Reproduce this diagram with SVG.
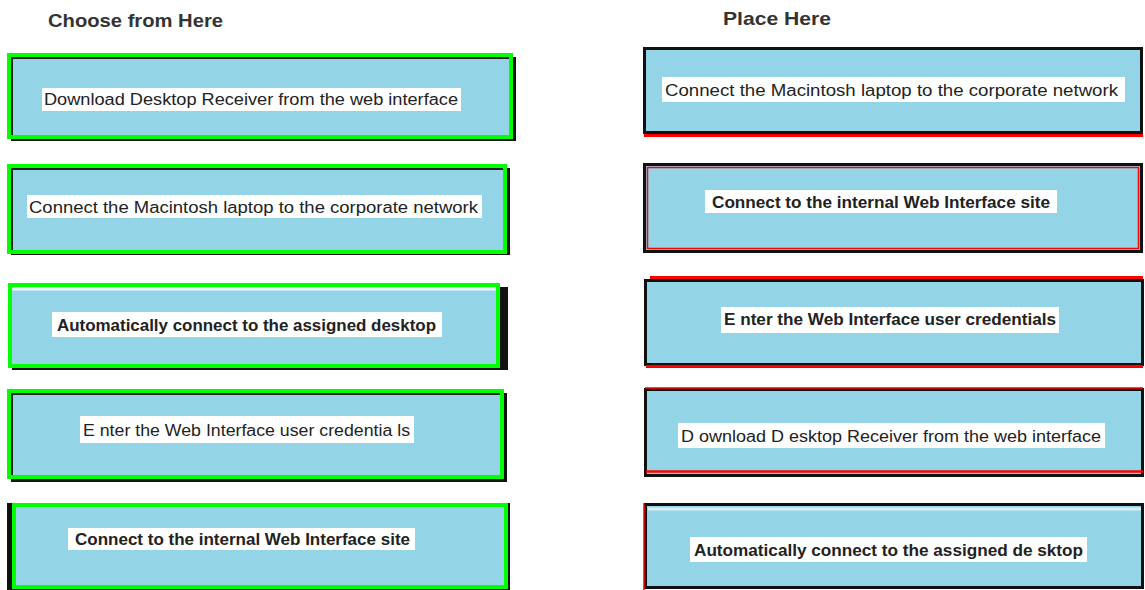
<svg xmlns="http://www.w3.org/2000/svg" width="1145" height="590" viewBox="0 0 1145 590">
<style>
.bg{fill:#ffffff}
.head{font-family:"Liberation Sans",Arial,sans-serif;font-weight:bold;font-size:19px;fill:#333}
.shadow{fill:#111}
.boxL{fill:#94d4e7;stroke:#00ff00;stroke-width:4}
.boxR{fill:#94d4e7;stroke:#111;stroke-width:3}
.inner{fill:none;stroke:#222;stroke-width:2}
.red{fill:none;stroke:#ff0000;stroke-width:3}
.hl{fill:#ffffff}
.t{font-family:"Liberation Sans",Arial,sans-serif;font-size:16px;fill:#222}
.b{font-weight:bold}
</style>
<rect class="bg" x="0" y="0" width="1145" height="590"/>
<text class="head" x="48" y="27" textLength="175" lengthAdjust="spacingAndGlyphs">Choose from Here</text>
<text class="head" x="723" y="25" textLength="108" lengthAdjust="spacingAndGlyphs">Place Here</text>

<g id="choose1">
<rect class="shadow" x="11" y="57" width="505" height="84"/>
<rect class="boxL" x="9" y="55" width="502" height="82"/>
<path class="inner" d="M12 135 V58 H509"/>
<rect class="hl" x="42" y="88" width="419" height="23"/>
<text class="t" x="44" y="105" textLength="414" lengthAdjust="spacingAndGlyphs">Download Desktop Receiver from the web interface</text>
</g>
<g id="choose2">
<rect class="shadow" x="11" y="168" width="499" height="87"/>
<rect class="boxL" x="9" y="166" width="496" height="86"/>
<path class="inner" d="M12 250 V169 H503"/>
<rect class="hl" x="27" y="195" width="455" height="23"/>
<text class="t" x="29" y="213" textLength="449" lengthAdjust="spacingAndGlyphs">Connect the Macintosh laptop to the corporate network</text>
</g>
<g id="choose3">
<rect class="shadow" x="12" y="287" width="496" height="83"/>
<rect class="boxL" x="10" y="285" width="488" height="81"/>
<path d="M12 289 H496" stroke="#eef8fb" stroke-width="3"/>
<rect class="hl" x="52" y="312" width="390" height="25"/>
<text class="t b" x="57" y="331" textLength="379" lengthAdjust="spacingAndGlyphs">Automatically connect to the assigned desktop</text>
</g>
<g id="choose4">
<rect class="shadow" x="11" y="393" width="496" height="89"/>
<rect class="boxL" x="9" y="391" width="493" height="86"/>
<path class="inner" d="M12 475 V394 H500"/>
<rect class="hl" x="80" y="416" width="334" height="27"/>
<text class="t" x="83" y="436" textLength="327" lengthAdjust="spacingAndGlyphs">E nter the Web Interface user credentia ls</text>
</g>
<g id="choose5">
<rect class="shadow" x="7" y="503" width="503" height="87"/>
<rect class="boxL" x="14" y="505" width="492" height="82"/>
<rect class="hl" x="68" y="528" width="347" height="22"/>
<text class="t b" x="75" y="545" textLength="335" lengthAdjust="spacingAndGlyphs">Connect to the internal Web Interface site</text>
</g>

<g id="place1">
<rect class="boxR" x="644.5" y="48.5" width="497" height="84"/>
<path class="red" d="M644 135.5 H1143"/>
<rect class="hl" x="662" y="77" width="463" height="25"/>
<text class="t" x="665" y="96" textLength="453" lengthAdjust="spacingAndGlyphs">Connect the Macintosh laptop to the corporate network</text>
</g>
<g id="place2">
<rect class="boxR" x="644.5" y="164.5" width="497" height="87"/>
<rect x="647.5" y="167.5" width="491" height="81" fill="none" stroke="#ff0000" stroke-width="1.5"/>
<rect class="hl" x="705" y="190" width="352" height="23"/>
<text class="t b" x="712" y="208" textLength="338" lengthAdjust="spacingAndGlyphs">Connect to the internal Web Interface site</text>
</g>
<g id="place3">
<rect class="boxR" x="645.5" y="280.5" width="497" height="84"/>
<path class="red" d="M650 277.5 H1143 M646 366.5 H1143"/>
<rect class="hl" x="721" y="307" width="338" height="26"/>
<text class="t b" x="724" y="325" textLength="332" lengthAdjust="spacingAndGlyphs">E nter the Web Interface user credentials</text>
</g>
<g id="place4">
<rect class="boxR" x="645.5" y="389.5" width="497" height="86"/>
<path d="M645 388 H1143" stroke="#ff0000" stroke-width="1.5"/>
<path d="M646 471.5 H1143" stroke="#ff0000" stroke-width="2.5"/>
<rect class="hl" x="678" y="423" width="427" height="25"/>
<text class="t" x="681" y="442" textLength="420" lengthAdjust="spacingAndGlyphs">D ownload D esktop Receiver from the web interface</text>
</g>
<g id="place5">
<rect class="boxR" x="645.5" y="504.5" width="497" height="83"/>
<path d="M644 503 V590" stroke="#ff0000" stroke-width="1.5"/>
<path d="M648 509 H1141" stroke="#d8f0f6" stroke-width="3"/>
<rect class="hl" x="690" y="537" width="397" height="25"/>
<text class="t b" x="694" y="556" textLength="389" lengthAdjust="spacingAndGlyphs">Automatically connect to the assigned de sktop</text>
</g>
<g id="connectors"></g>
</svg>
